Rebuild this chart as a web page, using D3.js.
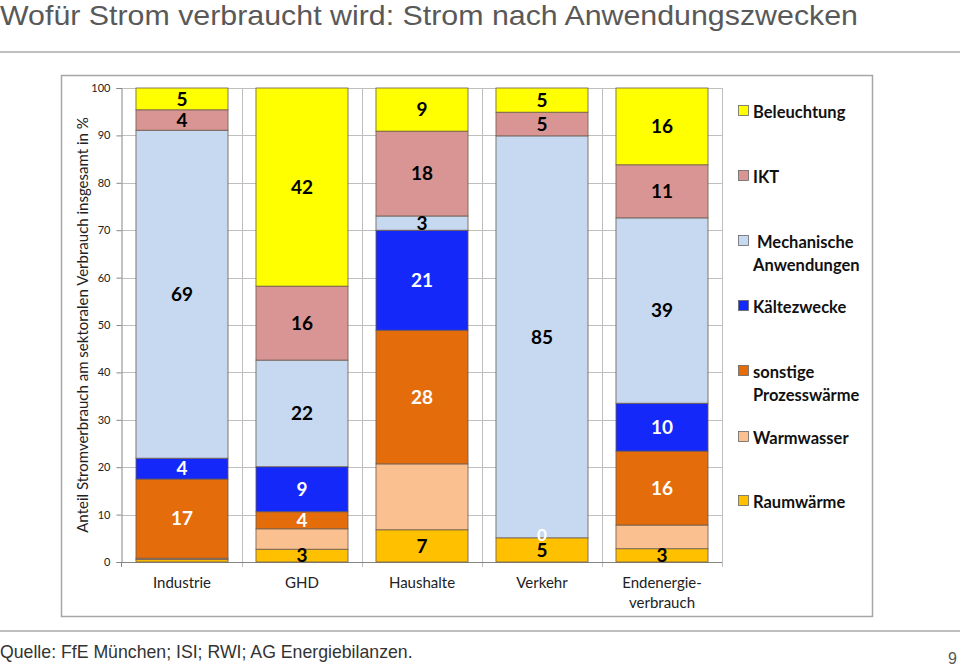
<!DOCTYPE html>
<html><head><meta charset="utf-8">
<script src="https://cdn.jsdelivr.net/npm/d3@7"></script>
<style>body{margin:0;background:#fff;}svg{display:block;}</style>
</head><body>
<svg id="c" width="960" height="668"></svg>
<script>
const categories = ["Industrie", "GHD", "Haushalte", "Verkehr", "Endenergieverbrauch"];
const categoryLines = [["Industrie"], ["GHD"], ["Haushalte"], ["Verkehr"], ["Endenergie-", "verbrauch"]];
const seriesNames = ["Raumwärme", "Warmwasser", "sonstige Prozesswärme", "Kältezwecke", "Mechanische Anwendungen", "IKT", "Beleuchtung"];
const seriesColors = ["#FFC000", "#FAC090", "#E46C0A", "#1428FA", "#C6D9F1", "#D99594", "#FFFF00"];
const seriesLabelColors = ["#000", "#000", "#fff", "#fff", "#000", "#000", "#000"];
// values per series (in %), order of categories
const raumwaerme   = [0.5, 2.7, 6.8, 5.1, 2.8];
const warmwasser   = [0.3, 4.3, 13.9, 0, 5.0];
const prozess      = [16.7, 3.6, 28.2, 0, 15.6];
const kaelte       = [4.4, 9.5, 21.1, 0, 10.1];
const mechanisch   = [69.2, 22.5, 3.0, 84.8, 39.1];
const ikt          = [4.3, 15.6, 17.9, 5.0, 11.2];
const beleuchtung  = [4.6, 41.8, 9.1, 5.1, 16.2];
// labels as shown in the picture (null = no label)
const labelsRaum   = [null, "3", "7", "5", "3"];
const labelsWW     = [null, null, null, null, null];
const labelsProz   = ["17", "4", "28", "0", "16"];
const labelsKaelte = ["4", "9", "21", null, "10"];
const labelsMech   = ["69", "22", "3", "85", "39"];
const labelsIKT    = ["4", "16", "18", "5", "11"];
const labelsBel    = ["5", "42", "9", "5", "16"];
const yTicks = [0, 10, 20, 30, 40, 50, 60, 70, 80, 90, 100];
const legendLines = [["Beleuchtung"], ["IKT"], [" Mechanische", "Anwendungen"], ["Kältezwecke"], ["sonstige", "Prozesswärme"], ["Warmwasser"], ["Raumwärme"]];
const legendOrder = [6, 5, 4, 3, 2, 1, 0];

const values = [raumwaerme, warmwasser, prozess, kaelte, mechanisch, ikt, beleuchtung];
const labels = [labelsRaum, labelsWW, labelsProz, labelsKaelte, labelsMech, labelsIKT, labelsBel];

const svg = d3.select("#c");
const grey = "#595959";

// Title
svg.append("text").attr("x", 0).attr("y", 25).attr("font-family", "Liberation Sans, Arial, sans-serif")
  .attr("font-size", 28).attr("fill", grey)
  .attr("textLength", 858).attr("lengthAdjust", "spacingAndGlyphs")
  .text("Wofür Strom verbraucht wird: Strom nach Anwendungszwecken");
svg.append("line").attr("x1", 0).attr("x2", 960).attr("y1", 52).attr("y2", 52).attr("stroke", "#BFBFBF").attr("stroke-width", 2);
svg.append("line").attr("x1", 0).attr("x2", 960).attr("y1", 631).attr("y2", 631).attr("stroke", "#BFBFBF").attr("stroke-width", 2);
svg.append("text").attr("x", 0).attr("y", 658).attr("font-family", "Liberation Sans, Arial, sans-serif")
  .attr("font-size", 17.7).attr("fill", "#333").text("Quelle: FfE München; ISI; RWI; AG Energiebilanzen.");
svg.append("text").attr("x", 957).attr("y", 664).attr("text-anchor", "end").attr("font-family", "Liberation Sans, Arial, sans-serif")
  .attr("font-size", 16).attr("fill", grey).text("9");

// Chart frame
svg.append("rect").attr("x", 61.5).attr("y", 75.5).attr("width", 811).attr("height", 541)
  .attr("fill", "none").attr("stroke", "#A6A6A6").attr("stroke-width", 1.5);

const x = d3.scaleBand().domain(categories).range([122, 722]).padding(0);
const y = d3.scaleLinear().domain([0, 100]).range([562, 88]);
const bw = x.bandwidth();
const barW = bw * 0.767;
const barOff = (bw - barW) / 2;

// gridlines
const g = svg.append("g");
g.selectAll(".hg").data(yTicks.slice(1)).join("line")
  .attr("x1", 122).attr("x2", 722).attr("y1", d => Math.round(y(d)) + 0.5).attr("y2", d => Math.round(y(d)) + 0.5)
  .attr("stroke", "#BFBFBF").attr("stroke-width", 1);
g.selectAll(".vg").data(categories).join("line")
  .attr("x1", d => x(d) + bw + 0.5).attr("x2", d => x(d) + bw + 0.5).attr("y1", 88).attr("y2", 567)
  .attr("stroke", "#BFBFBF").attr("stroke-width", 1);

// y axis
const yAxis = d3.axisLeft(y).tickValues(yTicks).tickSize(5).tickPadding(6);
const ya = svg.append("g").attr("transform", "translate(121.5,0)").call(yAxis);
ya.select(".domain").attr("stroke", "#868686");
ya.selectAll(".tick line").attr("stroke", "#868686");
ya.selectAll("text").attr("font-family", "Lato, Carlito, sans-serif").attr("font-size", 11).attr("fill", "#222");

// x axis line
svg.append("line").attr("x1", 121).attr("x2", 722).attr("y1", 562.5).attr("y2", 562.5).attr("stroke", "#868686");
svg.append("line").attr("x1", 121.5).attr("x2", 121.5).attr("y1", 562).attr("y2", 567).attr("stroke", "#868686");

// stack
const rows = categories.map((c, i) => {
  const r = { cat: c };
  seriesNames.forEach((s, j) => r[s] = values[j][i]);
  return r;
});
const stack = d3.stack().keys(seriesNames)(rows);

const layers = svg.append("g").selectAll("g").data(stack).join("g")
  .attr("fill", (d, i) => seriesColors[i]);
layers.selectAll("rect").data(d => d).join("rect")
  .attr("x", d => x(d.data.cat) + barOff)
  .attr("width", barW)
  .attr("y", d => y(d[1]))
  .attr("height", d => Math.max(0, y(d[0]) - y(d[1])))
  .attr("stroke", "#6b5b4e").attr("stroke-width", 0.8);

// labels
const lab = svg.append("g").attr("font-family", "Lato, Carlito, sans-serif").attr("font-weight", "bold")
  .attr("font-size", 19).attr("text-anchor", "middle");
stack.forEach((layer, j) => {
  layer.forEach((d, i) => {
    const t = labels[j][i];
    if (t == null) return;
    const zero = d[1] - d[0] === 0;
    lab.append("text")
      .attr("x", x(d.data.cat) + bw / 2)
      .attr("y", (y(d[0]) + y(d[1])) / 2 + (zero ? -2.5 : 0))
      .attr("dy", "0.36em")
      .attr("font-size", zero ? 17 : 19)
      .attr("fill", seriesLabelColors[j])
      .text(t);
  });
});

// x labels
const xl = svg.append("g").attr("font-family", "Lato, Carlito, sans-serif").attr("font-size", 15).attr("fill", "#222").attr("text-anchor", "middle");
categories.forEach((c, i) => {
  categoryLines[i].forEach((ln, k) => {
    xl.append("text").attr("x", x(c) + bw / 2).attr("y", 588 + k * 20).text(ln);
  });
});

// y title
svg.append("text").attr("transform", "translate(88,325) rotate(-90)").attr("text-anchor", "middle")
  .attr("font-family", "Lato, Carlito, sans-serif").attr("font-size", 15).attr("fill", "#222")
  .text("Anteil Stromverbrauch am sektoralen Verbrauch insgesamt in %");

// legend
const legY = [112, 177, 242, 307, 372, 438, 502];
const leg = svg.append("g");
legendOrder.forEach((si, k) => {
  const yy = legY[k];
  leg.append("rect").attr("x", 738.5).attr("y", yy - 6.5).attr("width", 10).attr("height", 10)
    .attr("fill", seriesColors[si]).attr("stroke", "#666").attr("stroke-width", 0.8);
  legendLines[k].forEach((ln, m) => {
    leg.append("text").attr("x", 753).attr("y", yy + 5.5 + m * 23).style("white-space", "pre")
      .attr("font-family", "Lato, Carlito, sans-serif").attr("font-weight", "bold").attr("font-size", 16.5).attr("fill", "#111")
      .text(ln);
  });
});
</script>
</body></html>
